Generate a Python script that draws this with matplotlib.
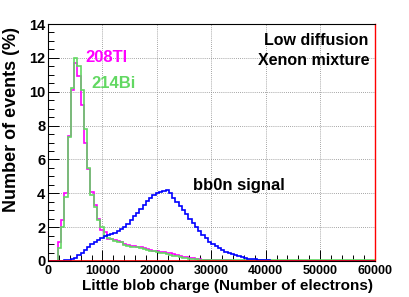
import numpy as np
import matplotlib
matplotlib.use("Agg")
import matplotlib.pyplot as plt
from matplotlib.ticker import MultipleLocator

# ---- data ----
bin_edges = np.linspace(0, 60000, 101)  # 100 bins of 600 electrons

tl208 = [0, 0, 0, 1.1, 2.4, 4.0, 7.4, 10.1, 11.7, 10.9,
         9.2, 7.0, 5.45, 4.1, 3.3, 2.5, 1.85, 1.7, 1.3, 1.3,
         1.25, 1.2, 1.15, 1.0, 0.95, 0.9, 0.88, 0.85, 0.8, 0.75,
         0.7, 0.65, 0.62, 0.6, 0.55, 0.55, 0.5, 0.45, 0.4, 0.35,
         0.3, 0.26, 0.22, 0.18, 0.15, 0.12, 0.1, 0.08, 0.06, 0.05,
         0.03, 0.03, 0.03, 0.03, 0.03, 0.03, 0.02, 0.02, 0.02, 0.02,
         0.01, 0.01, 0.01, 0.01, 0.01, 0.01, 0.01, 0.01, 0.01, 0.01,
         0, 0, 0, 0, 0, 0, 0, 0, 0, 0,
         0, 0, 0, 0, 0, 0, 0, 0, 0, 0,
         0, 0, 0, 0, 0, 0, 0, 0, 0, 0]

bi214 = [0, 0, 0, 0.75, 2.0, 3.8, 7.3, 10.2, 12.0, 11.5,
         10.1, 7.8, 5.5, 3.9, 3.2, 2.4, 2.0, 1.5, 1.35, 1.3,
         1.2, 1.15, 1.1, 0.95, 0.9, 0.85, 0.82, 0.8, 0.75, 0.7,
         0.66, 0.62, 0.58, 0.55, 0.5, 0.45, 0.4, 0.36, 0.32, 0.28,
         0.24, 0.2, 0.17, 0.14, 0.12, 0.1, 0.08, 0.07, 0.06, 0.05,
         0.04, 0.04, 0.04, 0.03, 0.03, 0.03, 0.03, 0.03, 0.03, 0.03,
         0.03, 0.03, 0.03, 0.03, 0.03, 0.03, 0.03, 0.03, 0.03, 0.03,
         0.03, 0.03, 0.03, 0.03, 0.03, 0.03, 0.03, 0.03, 0.03, 0.03,
         0.03, 0.03, 0.03, 0.03, 0.03, 0.03, 0.03, 0.03, 0.03, 0.03,
         0.03, 0.03, 0.03, 0.03, 0.03, 0.03, 0.03, 0.03, 0.03, 0.03]

bb0n = [0, 0, 0, 0, 0.02, 0.05, 0.08, 0.12, 0.2, 0.33,
        0.48, 0.64, 0.82, 0.98, 1.12, 1.25, 1.38, 1.45, 1.52, 1.6,
        1.68, 1.78, 1.88, 2.0, 2.2, 2.45, 2.65, 2.85, 3.05, 3.3,
        3.52, 3.72, 3.88, 4.02, 4.1, 4.12, 4.18, 4.0, 3.75, 3.48,
        3.25, 3.0, 2.78, 2.48, 2.25, 2.02, 1.8, 1.55, 1.36, 1.15,
        1.0, 0.88, 0.75, 0.65, 0.56, 0.47, 0.4, 0.33, 0.27, 0.22,
        0.18, 0.14, 0.11, 0.09, 0.07, 0.05, 0.04, 0.03, 0.02, 0.015,
        0.01, 0.005, 0.005, 0.005, 0.005, 0.005, 0, 0, 0, 0,
        0, 0, 0, 0, 0, 0, 0, 0, 0, 0,
        0, 0, 0, 0, 0, 0, 0, 0, 0, 0]

other = [0] * 100

x_ticks = [0, 10000, 20000, 30000, 40000, 50000, 60000]
y_ticks = [0, 2, 4, 6, 8, 10, 12, 14]

# ---- figure ----
plt.rcParams['font.family'] = ['Liberation Sans', 'DejaVu Sans']
plt.rcParams['font.weight'] = 'bold'

W, H = 409, 297
fig = plt.figure(figsize=(W / 100, H / 100), dpi=100)
ax = fig.add_axes([48 / W, 1 - 261 / H, (374.5 - 48) / W, (261 - 24) / H])

ax.set_xlim(0, 60000)
ax.set_ylim(0, 14)

ax.grid(True, which='major', color='#888888', linestyle=(0, (1, 1.5)), linewidth=0.6)
ax.set_axisbelow(True)

lw = 1.2
ax.stairs(tl208, bin_edges, color='#ff00ff', linewidth=lw)
ax.stairs(bi214, bin_edges, color='#62d862', linewidth=lw)
ax.stairs(bb0n, bin_edges, color='#0000ff', linewidth=lw)
ax.stairs(other, bin_edges, color='#ff0000', linewidth=lw)

ax.spines['right'].set_color('#ff0000')
for s in ['left', 'bottom', 'top']:
    ax.spines[s].set_linewidth(0.8)
ax.spines['right'].set_linewidth(1.0)

ax.set_xticks(x_ticks)
ax.set_yticks(y_ticks)
ax.xaxis.set_minor_locator(MultipleLocator(2000))
ax.yaxis.set_minor_locator(MultipleLocator(0.5))
ax.tick_params(which='both', direction='in', top=False, right=False)
ax.tick_params(which='major', length=8, width=0.7)
ax.tick_params(which='minor', length=4, width=0.7)
ax.tick_params(axis='x', labelsize=9, pad=3)
ax.tick_params(axis='y', labelsize=10.5, pad=2)
for lab in ax.get_xticklabels() + ax.get_yticklabels():
    lab.set_fontweight('bold')

fig.text(373 / W, 1 - 290 / H, 'Little blob charge (Number of electrons)',
         ha='right', va='baseline', fontsize=11, fontweight='bold')
fig.text(12 / W, 1 - 27 / H, 'Number of events (%)', rotation=90,
         ha='center', va='top', fontsize=13, fontweight='bold')

ax.text(6850, 11.78, '208Tl', color='#ff00ff', fontsize=12, fontweight='bold', va='baseline')
ax.text(7950, 10.24, '214Bi', color='#62d862', fontsize=12, fontweight='bold', va='baseline')
ax.text(58900, 12.75, 'Low diffusion', color='black', fontsize=11.5, fontweight='bold',
        ha='right', va='baseline')
ax.text(59080, 11.6, 'Xenon mixture', color='black', fontsize=11.5, fontweight='bold',
        ha='right', va='baseline')
ax.text(26670, 4.19, 'bb0n signal', color='black', fontsize=12, fontweight='bold', va='baseline')

fig.savefig('out.png', dpi=100)
